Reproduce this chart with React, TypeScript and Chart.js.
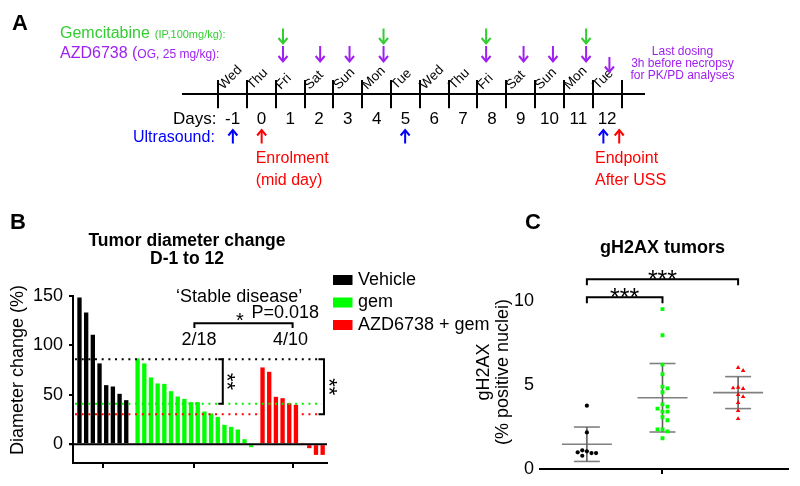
import React, { useEffect, useRef } from 'react';
import { Chart, registerables } from 'chart.js';

Chart.register(...registerables);

const FONT = '"Liberation Sans", Arial, Helvetica, sans-serif';

// ---------------- Panel A: dosing schedule ----------------
const studyDays = [-1, 0, 1, 2, 3, 4, 5, 6, 7, 8, 9, 10, 11, 12];
const weekDays = ['Wed', 'Thu', 'Fri', 'Sat', 'Sun', 'Mon', 'Tue', 'Wed', 'Thu', 'Fri', 'Sat', 'Sun', 'Mon', 'Tue'];
const gemcitabineDoses = [0.75, 4.24, 7.8, 11.27];
const azdDoses = [0.75, 2.04, 3.06, 4.24, 7.8, 9.1, 10.12, 11.27, 12.08];
const ultrasoundDays = [-0.99, 4.99, 11.87];
const enrolmentDay = 0.01;
const endpointDay = 12.42;
const lastDosingNote = ['Last dosing', '3h before necropsy', 'for PK/PD analyses'];

// ---------------- Panel B: tumour diameter change ----------------
const groupLabels = ['Vehicle', 'gem', 'AZD6738 + gem'];
const groupColors = ['#000000', '#00ff00', '#ff0000'];
const vehicleChange = [148.6, 133.4, 110.8, 81.8, 59.8, 58.4, 51.0, 44.6];
const gemChange = [86.8, 81.8, 67.6, 61.5, 61.1, 53.7, 48.3, 45.9, 42.6, 42.6, 33.1, 31.1, 27.7, 19.6, 17.6, 14.9, 5.1, -3.0];
const comboChange = [77.7, 73.3, 48.0, 46.6, 41.5, 39.9, 1.3, -4.0, -10.8, -10.8];
const diameterTicks = [0, 50, 100, 150];
const stableDiseaseCounts = ['2/18', '4/10'];
const stablePValue = 'P=0.018';

// ---------------- Panel C: gH2AX ----------------
const h2axVehicle = [3.77, 2.18, 1.05, 0.95, 1.11, 0.95, 0.99, 0.79];
const h2axGem = [9.52, 7.96, 6.21, 5.64, 4.90, 4.80, 4.57, 3.85, 3.71, 3.59, 3.41, 3.41, 3.08, 2.90, 2.36, 2.24, 2.36, 1.83];
const h2axCombo = [6.03, 5.85, 4.86, 4.78, 4.82, 4.42, 4.30, 3.95, 3.47, 2.99];
const h2axTicks = [0, 5, 10];

// ---------------- helpers ----------------
type TOpt = { size?: number; bold?: boolean; color?: string; align?: CanvasTextAlign; baseline?: CanvasTextBaseline; rot?: number };
function drawText(ctx: CanvasRenderingContext2D, s: string, x: number, y: number, o: TOpt = {}) {
  ctx.save();
  ctx.font = `${o.bold ? 'bold ' : ''}${o.size ?? 16}px ${FONT}`;
  ctx.fillStyle = o.color ?? '#000';
  ctx.textAlign = o.align ?? 'left';
  ctx.textBaseline = o.baseline ?? 'alphabetic';
  ctx.translate(x, y);
  if (o.rot) ctx.rotate(o.rot);
  ctx.fillText(s, 0, 0);
  ctx.restore();
}
function textWidth(ctx: CanvasRenderingContext2D, s: string, size: number, bold = false) {
  ctx.save();
  ctx.font = `${bold ? 'bold ' : ''}${size}px ${FONT}`;
  const w = ctx.measureText(s).width;
  ctx.restore();
  return w;
}
function seg(ctx: CanvasRenderingContext2D, pts: number[][], color = '#000', w = 2, dash: number[] = []) {
  ctx.save();
  ctx.strokeStyle = color;
  ctx.lineWidth = w;
  ctx.setLineDash(dash);
  ctx.beginPath();
  pts.forEach(([x, y], i) => (i ? ctx.lineTo(x, y) : ctx.moveTo(x, y)));
  ctx.stroke();
  ctx.restore();
}
function arrow(ctx: CanvasRenderingContext2D, x: number, tail: number, head: number, color: string) {
  const dir = Math.sign(head - tail);
  seg(ctx, [[x, tail], [x, head]], color, 2);
  seg(ctx, [[x - 4.5, head - dir * 5.5], [x, head], [x + 4.5, head - dir * 5.5]], color, 2);
}
const mean = (a: number[]) => a.reduce((s, v) => s + v, 0) / a.length;
const sd = (a: number[]) => {
  const m = mean(a);
  return Math.sqrt(a.reduce((s, v) => s + (v - m) * (v - m), 0) / (a.length - 1));
};

// ---------------- Panel A chart ----------------
function configA(): any {
  const plugin = {
    id: 'panelA',
    afterDraw(chart: any) {
      const ctx: CanvasRenderingContext2D = chart.ctx;
      const xs = chart.scales.x;
      const px = (d: number) => xs.getPixelForValue(d);
      drawText(ctx, 'A', 12, 30, { size: 22, bold: true });
      drawText(ctx, 'Gemcitabine', 60, 38, { size: 16, color: '#33cc33' });
      const gw = textWidth(ctx, 'Gemcitabine', 16);
      drawText(ctx, '(IP,100mg/kg):', 60 + gw + 5, 37.5, { size: 11, color: '#33cc33' });
      drawText(ctx, 'AZD6738 (', 60, 58, { size: 16, color: '#a020f0' });
      const aw = textWidth(ctx, 'AZD6738 (', 16);
      drawText(ctx, 'OG, 25 mg/kg):', 60 + aw, 58, { size: 12, color: '#a020f0' });
      studyDays.forEach((d, i) => {
        drawText(ctx, weekDays[i], px(d - 0.5) + 5, 90, { size: 13.5, rot: -Math.PI / 4 });
      });
      drawText(ctx, 'Days:', 173, 124, { size: 17 });
      studyDays.forEach((d) => drawText(ctx, String(d), px(d), 124, { size: 17, align: 'center' }));
      drawText(ctx, 'Ultrasound:', 133, 142, { size: 16, color: '#0000ff' });
      gemcitabineDoses.forEach((d) => arrow(ctx, px(d), 28.5, 43.5, '#33cc33'));
      azdDoses.forEach((d, i) => {
        const last = i === azdDoses.length - 1;
        arrow(ctx, px(d), last ? 57 : 46, last ? 72 : 61.5, '#a020f0');
      });
      lastDosingNote.forEach((s, i) => drawText(ctx, s, 682.5, 55 + i * 11.8, { size: 12, align: 'center', color: '#a020f0' }));
      ultrasoundDays.forEach((d) => arrow(ctx, px(d), 143.5, 130, '#0000ff'));
      [enrolmentDay, endpointDay].forEach((d) => arrow(ctx, px(d), 143.5, 130, '#ff0000'));
      drawText(ctx, 'Enrolment', px(enrolmentDay) - 6, 163, { size: 16, color: '#ff0000' });
      drawText(ctx, '(mid day)', px(enrolmentDay) - 6, 185, { size: 16, color: '#ff0000' });
      drawText(ctx, 'Endpoint', 595, 163, { size: 16, color: '#ff0000' });
      drawText(ctx, 'After USS', 595, 185, { size: 16, color: '#ff0000' });
    },
  };
  const boundaries = [...studyDays.map((d) => d - 0.5), studyDays[studyDays.length - 1] + 0.5];
  return {
    type: 'scatter',
    data: { datasets: [] },
    options: {
      responsive: false,
      animation: false,
      events: [],
      layout: { padding: { top: 80, left: 183, right: 156, bottom: 0 } },
      plugins: { legend: { display: false }, tooltip: { enabled: false } },
      scales: {
        x: {
          type: 'linear',
          min: -2.72,
          max: 13.28,
          offset: false,
          afterBuildTicks: (s: any) => { s.ticks = boundaries.map((v) => ({ value: v })); },
          afterFit: (s: any) => { s.height = 486 - 94.3; },
          grid: { offset: false, drawOnChartArea: true, drawTicks: true, tickLength: 14, lineWidth: 2, color: '#000' },
          border: { display: true, width: 2, color: '#000' },
          ticks: { callback: () => '', padding: 0 },
        },
        y: { display: false },
      },
    },
    plugins: [plugin],
  };
}

// ---------------- Panel B chart ----------------
const GROUP_GAP = 0.7;
function layoutGroups(groups: number[][]) {
  let start = 0;
  return groups.map((vals) => {
    const xs = vals.map((_, i) => start + i);
    const res = { xs, first: start, center: start + (vals.length - 1) / 2 };
    start += vals.length + GROUP_GAP;
    return res;
  });
}

function configB(): any {
  const groups = [vehicleChange, gemChange, comboChange];
  const lay = layoutGroups(groups);
  const means = groups.map(mean);
  const plugin = {
    id: 'panelB',
    afterDatasetsDraw(chart: any) {
      const ctx: CanvasRenderingContext2D = chart.ctx;
      const xs = chart.scales.x;
      const ys = chart.scales.y;
      const ca = chart.chartArea;
      const X = (v: number) => xs.getPixelForValue(v);
      const Y = (v: number) => ys.getPixelForValue(v);
      seg(ctx, [[ca.left - 4, Y(0)], [ca.right, Y(0)]], '#000', 2);
      const b1 = X(lay[1].first + 12.75);
      const b2 = X(lay[2].first + 9.2);
      means.forEach((m, i) => {
        seg(ctx, [[ca.left + 2, Y(m)], [b2 - 2, Y(m)]], i === 1 ? '#00ee00' : groupColors[i], 2, [2, 4.67]);
      });
      seg(ctx, [[b1 - 4.5, Y(means[0])], [b1, Y(means[0])], [b1, Y(means[1])], [b1 - 4.5, Y(means[1])]], '#000', 2);
      drawText(ctx, '**', b1 + 3, (Y(means[0]) + Y(means[1])) / 2, { size: 22, align: 'center', baseline: 'middle', rot: Math.PI / 2 });
      seg(ctx, [[b2 - 5.5, Y(means[0])], [b2, Y(means[0])], [b2, Y(means[2])], [b2 - 5.5, Y(means[2])]], '#000', 2);
      drawText(ctx, '**', b2 + 4, (Y(means[0]) + Y(means[2])) / 2, { size: 22, align: 'center', baseline: 'middle', rot: Math.PI / 2 });
      const sx1 = X(lay[1].center);
      const sx2 = X(lay[2].center);
      seg(ctx, [[sx1, Y(117.6)], [sx1, Y(122.3)], [sx2, Y(122.3)], [sx2, Y(117.6)]], '#000', 2);
      drawText(ctx, '\u2018Stable disease\u2019', X(23.9), Y(144), { size: 18, align: 'center' });
      drawText(ctx, '*', X(24.0), Y(118.6), { size: 20, align: 'center' });
      drawText(ctx, stablePValue, X(25.75), Y(128), { size: 18 });
      drawText(ctx, stableDiseaseCounts[0], X(lay[1].center + 0.7), Y(100.4), { size: 18, align: 'center' });
      drawText(ctx, stableDiseaseCounts[1], X(lay[2].center - 0.3), Y(100.4), { size: 18, align: 'center' });
    },
    afterDraw(chart: any) {
      const ctx: CanvasRenderingContext2D = chart.ctx;
      drawText(ctx, 'B', 10, 229, { size: 22, bold: true });
      drawText(ctx, 'Tumor diameter change', 187, 246, { size: 17.5, bold: true, align: 'center' });
      drawText(ctx, 'D-1 to 12', 187, 264, { size: 17.5, bold: true, align: 'center' });
      drawText(ctx, 'Diameter change (%)', 18, 370, { size: 18, align: 'center', baseline: 'middle', rot: -Math.PI / 2 });
      groupLabels.forEach((g, i) => {
        const cy = 280 + i * 22.5;
        ctx.fillStyle = groupColors[i];
        ctx.fillRect(333, cy - 5, 19.5, 10);
        drawText(ctx, g, 358, cy, { size: 18, baseline: 'middle' });
      });
    },
  };
  return {
    type: 'bar',
    data: {
      datasets: groups.map((vals, gi) => ({
        label: groupLabels[gi],
        data: vals.map((v, i) => ({ x: lay[gi].xs[i], y: v })),
        backgroundColor: groupColors[gi],
        borderWidth: 0,
        grouped: false,
        barPercentage: 0.65,
        categoryPercentage: 1,
      })),
    },
    options: {
      responsive: false,
      animation: false,
      events: [],
      layout: { padding: { top: 296, left: 0, right: 473, bottom: 0 } },
      plugins: { legend: { display: false }, tooltip: { enabled: false } },
      scales: {
        x: {
          type: 'linear',
          min: -0.97,
          max: 37.05,
          offset: false,
          afterBuildTicks: (s: any) => { s.ticks = lay.map((g) => ({ value: g.center })); },
          afterFit: (s: any) => { s.height = 486 - 463; },
          grid: { offset: false, drawOnChartArea: false, drawTicks: true, tickLength: 5, lineWidth: 2, color: '#000' },
          border: { display: true, width: 2, color: '#000' },
          ticks: { callback: () => '' },
        },
        y: {
          min: -19,
          max: 150,
          afterBuildTicks: (s: any) => { s.ticks = diameterTicks.map((v) => ({ value: v })); },
          afterFit: (s: any) => { s.width = 73; },
          grid: { drawOnChartArea: false, drawTicks: true, tickLength: 4, lineWidth: 2, color: '#000' },
          border: { display: true, width: 2, color: '#000' },
          ticks: { color: '#000', padding: 6, font: { size: 18, family: FONT } },
        },
      },
    },
    plugins: [plugin],
  };
}

// ---------------- Panel C chart ----------------
const PX_PER_UNIT_Y = 16.8;
const PX_PER_GROUP = 75.6;
function swarm(values: number[], diam: number) {
  const placed: { x: number; y: number }[] = [];
  return values.map((v) => {
    const y = v * PX_PER_UNIT_Y;
    for (let step = 0; step < 60; step++) {
      const off = step === 0 ? 0 : (step % 2 ? 1 : -1) * Math.ceil(step / 2) * diam;
      if (placed.every((p) => Math.hypot(p.x - off, p.y - y) >= diam)) {
        placed.push({ x: off, y });
        return off / PX_PER_GROUP;
      }
    }
    return 0;
  });
}

function configC(): any {
  const groups = [h2axVehicle, h2axGem, h2axCombo];
  const styles = ['circle', 'rect', 'triangle'];
  const radii = [2.1, 2.7, 2.6];
  const plugin = {
    id: 'panelC',
    beforeDatasetsDraw(chart: any) {
      const ctx: CanvasRenderingContext2D = chart.ctx;
      const xs = chart.scales.x;
      const ys = chart.scales.y;
      groups.forEach((vals, gi) => {
        const m = mean(vals);
        const s = sd(vals);
        const cx = xs.getPixelForValue(gi);
        seg(ctx, [[cx - 25, ys.getPixelForValue(m)], [cx + 25, ys.getPixelForValue(m)]], '#808080', 1.6);
        seg(ctx, [[cx - 13, ys.getPixelForValue(m + s)], [cx + 13, ys.getPixelForValue(m + s)]], '#808080', 1.6);
        seg(ctx, [[cx - 13, ys.getPixelForValue(m - s)], [cx + 13, ys.getPixelForValue(m - s)]], '#808080', 1.6);
        seg(ctx, [[cx, ys.getPixelForValue(m + s)], [cx, ys.getPixelForValue(m - s)]], '#606060', 1.6);
      });
    },
    afterDraw(chart: any) {
      const ctx: CanvasRenderingContext2D = chart.ctx;
      const xs = chart.scales.x;
      const ys = chart.scales.y;
      const X = (v: number) => xs.getPixelForValue(v);
      const Y = (v: number) => ys.getPixelForValue(v);
      drawText(ctx, 'C', 525, 229, { size: 22, bold: true });
      drawText(ctx, 'gH2AX tumors', X(1), 253, { size: 18, bold: true, align: 'center' });
      const upper = 11.29;
      const lower = 10.22;
      seg(ctx, [[X(0), Y(upper) + 6], [X(0), Y(upper)], [X(2), Y(upper)], [X(2), Y(upper) + 6]], '#000', 2);
      seg(ctx, [[X(0), Y(lower) + 6], [X(0), Y(lower)], [X(1), Y(lower)], [X(1), Y(lower) + 6]], '#000', 2);
      drawText(ctx, '***', X(1), Y(upper) + 8.5, { size: 25, align: 'center' });
      drawText(ctx, '***', X(0.5), Y(lower) + 8.5, { size: 25, align: 'center' });
      drawText(ctx, 'gH2AX', 484, 372, { size: 18, align: 'center', baseline: 'middle', rot: -Math.PI / 2 });
      drawText(ctx, '(% positive nuclei)', 503, 372, { size: 18, align: 'center', baseline: 'middle', rot: -Math.PI / 2 });
    },
  };
  return {
    type: 'scatter',
    data: {
      datasets: groups.map((vals, gi) => {
        const jit = swarm(vals, gi === 0 ? 4.6 : 5);
        return {
          label: groupLabels[gi],
          data: vals.map((v, i) => ({ x: gi + jit[i], y: v })),
          pointStyle: styles[gi],
          pointRadius: radii[gi],
          backgroundColor: groupColors[gi],
          borderColor: groupColors[gi],
          borderWidth: 0,
        };
      }),
    },
    options: {
      responsive: false,
      animation: false,
      events: [],
      layout: { padding: { top: 267.4, left: 0, right: 12, bottom: 0 } },
      plugins: { legend: { display: false }, tooltip: { enabled: false } },
      scales: {
        x: {
          type: 'linear',
          min: -0.62,
          max: 2.66,
          offset: false,
          afterBuildTicks: (s: any) => { s.ticks = [{ value: 1 }]; },
          afterFit: (s: any) => { s.height = 486 - 469; },
          grid: { offset: false, drawOnChartArea: false, drawTicks: true, tickLength: 5, lineWidth: 2, color: '#000' },
          border: { display: true, width: 2, color: '#000' },
          ticks: { callback: () => '' },
        },
        y: {
          min: 0,
          max: 12,
          afterBuildTicks: (s: any) => { s.ticks = h2axTicks.map((v) => ({ value: v })); },
          afterFit: (s: any) => { s.width = 540; },
          grid: { display: false, drawOnChartArea: false, drawTicks: false },
          border: { display: false },
          ticks: { color: '#000', padding: 6, font: { size: 18, family: FONT } },
        },
      },
    },
    plugins: [plugin],
  };
}

export default function App() {
  const aRef = useRef<HTMLCanvasElement>(null);
  const bRef = useRef<HTMLCanvasElement>(null);
  const cRef = useRef<HTMLCanvasElement>(null);
  useEffect(() => {
    const charts = [
      new Chart(aRef.current as HTMLCanvasElement, configA()),
      new Chart(bRef.current as HTMLCanvasElement, configB()),
      new Chart(cRef.current as HTMLCanvasElement, configC()),
    ];
    return () => charts.forEach((c) => c.destroy());
  }, []);
  const cs: React.CSSProperties = { position: 'absolute', left: 0, top: 0, width: 800, height: 486 };
  return (
    <div style={{ position: 'absolute', left: 0, top: 0, width: 800, height: 486, background: '#fff', overflow: 'hidden' }}>
      <canvas ref={aRef} width={800} height={486} style={cs} />
      <canvas ref={bRef} width={800} height={486} style={cs} />
      <canvas ref={cRef} width={800} height={486} style={cs} />
    </div>
  );
}
